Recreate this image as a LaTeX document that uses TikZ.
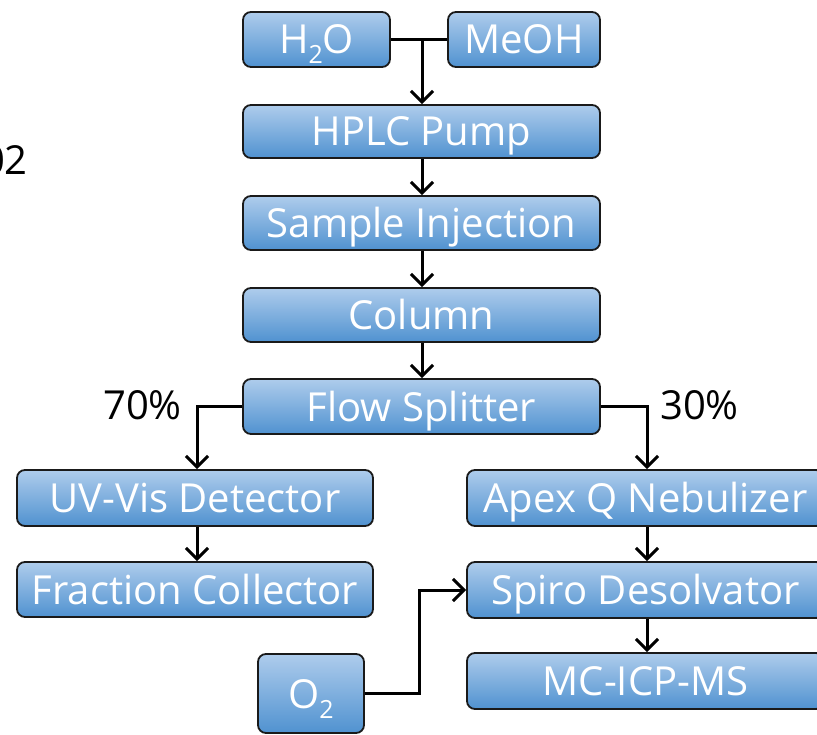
\documentclass[tikz,border=0pt]{standalone}
\usepackage{fontspec}
\setmainfont{Open Sans}
\usetikzlibrary{arrows.meta}
\definecolor{boxtop}{HTML}{AECCEC}
\definecolor{boxbot}{HTML}{5092D0}
\definecolor{edge}{HTML}{1A1A1A}
\newcommand{\subtwo}{\raisebox{-10pt}[0pt][0pt]{\fontsize{25}{25}\selectfont 2}}
\tikzset{
  box/.style={draw=edge, line width=1.8pt, rounded corners=8pt, top color=boxtop, bottom color=boxbot,
    text=white, font=\fontsize{40}{40}\selectfont, inner sep=0pt, anchor=center,
    text height=29pt, text depth=0pt},
  flow/.style={line width=3pt, -{Straight Barb[length=11pt,width=22pt,line width=3pt]}},
  plain/.style={line width=3pt},
  lbl/.style={font=\fontsize{40}{40}\selectfont, text=black, inner sep=0pt, text height=29pt, text depth=0pt}
}
\begin{document}
\begin{tikzpicture}[x=1pt,y=-1pt]
\useasboundingbox (0,0) rectangle (817,735);
\node[box, minimum width=147pt, minimum height=55pt] (h2o) at (316.5,39.5) {H\subtwo O};
\node[box, minimum width=152pt, minimum height=55pt] (meoh) at (524,39.5) {MeOH};
\node[box, minimum width=357pt, minimum height=53pt] (pump) at (421.5,131.5) {HPLC Pump};
\node[box, minimum width=357pt, minimum height=54pt] (inj) at (421.5,223) {Sample Injection};
\node[box, minimum width=357pt, minimum height=54pt] (col) at (421.5,315) {Column};
\node[box, minimum width=357pt, minimum height=55pt] (split) at (421.5,406.5) {Flow Splitter};
\node[box, minimum width=356pt, minimum height=56pt] (uv) at (195,498) {UV-Vis Detector};
\node[box, minimum width=356pt, minimum height=55pt] (frac) at (195,589.5) {Fraction Collector};
\node[box, minimum width=357pt, minimum height=56pt] (apex) at (645.5,498) {Apex Q Nebulizer};
\node[box, minimum width=357pt, minimum height=56pt] (spiro) at (645.5,590) {Spiro Desolvator};
\node[box, minimum width=357pt, minimum height=56pt] (mc) at (645.5,681) {MC-ICP-MS};
\node[box, minimum width=106pt, minimum height=79pt] (o2) at (311,693.5) {O\subtwo};
\node[lbl, anchor=east] (p70) at (182,405) {70\%};
\node[lbl, anchor=west] (p30) at (660,405) {30\%};
\node[lbl, anchor=east] (cut) at (28,160) {02};
\coordinate (j) at (422,39.5);
\coordinate (lb) at (197,406.5);
\coordinate (rb) at (647,406.5);
\coordinate (ob) at (419,693);
\draw[plain] (h2o.east) -- (meoh.west);
\draw[flow] (j) -- (j |- pump.north);
\draw[flow] (pump.south -| j) -- (inj.north -| j);
\draw[flow] (inj.south -| j) -- (col.north -| j);
\draw[flow] (col.south -| j) -- (split.north -| j);
\draw[flow] (split.west) -- (lb) -- (lb |- uv.north);
\draw[flow] (split.east) -- (rb) -- (rb |- apex.north);
\draw[flow] (uv.south -| lb) -- (frac.north -| lb);
\draw[flow] (apex.south -| rb) -- (spiro.north -| rb);
\draw[flow] (spiro.south -| rb) -- (mc.north -| rb);
\draw[flow] (o2.east |- ob) -- (ob) |- (spiro.west);
\end{tikzpicture}
\end{document}
